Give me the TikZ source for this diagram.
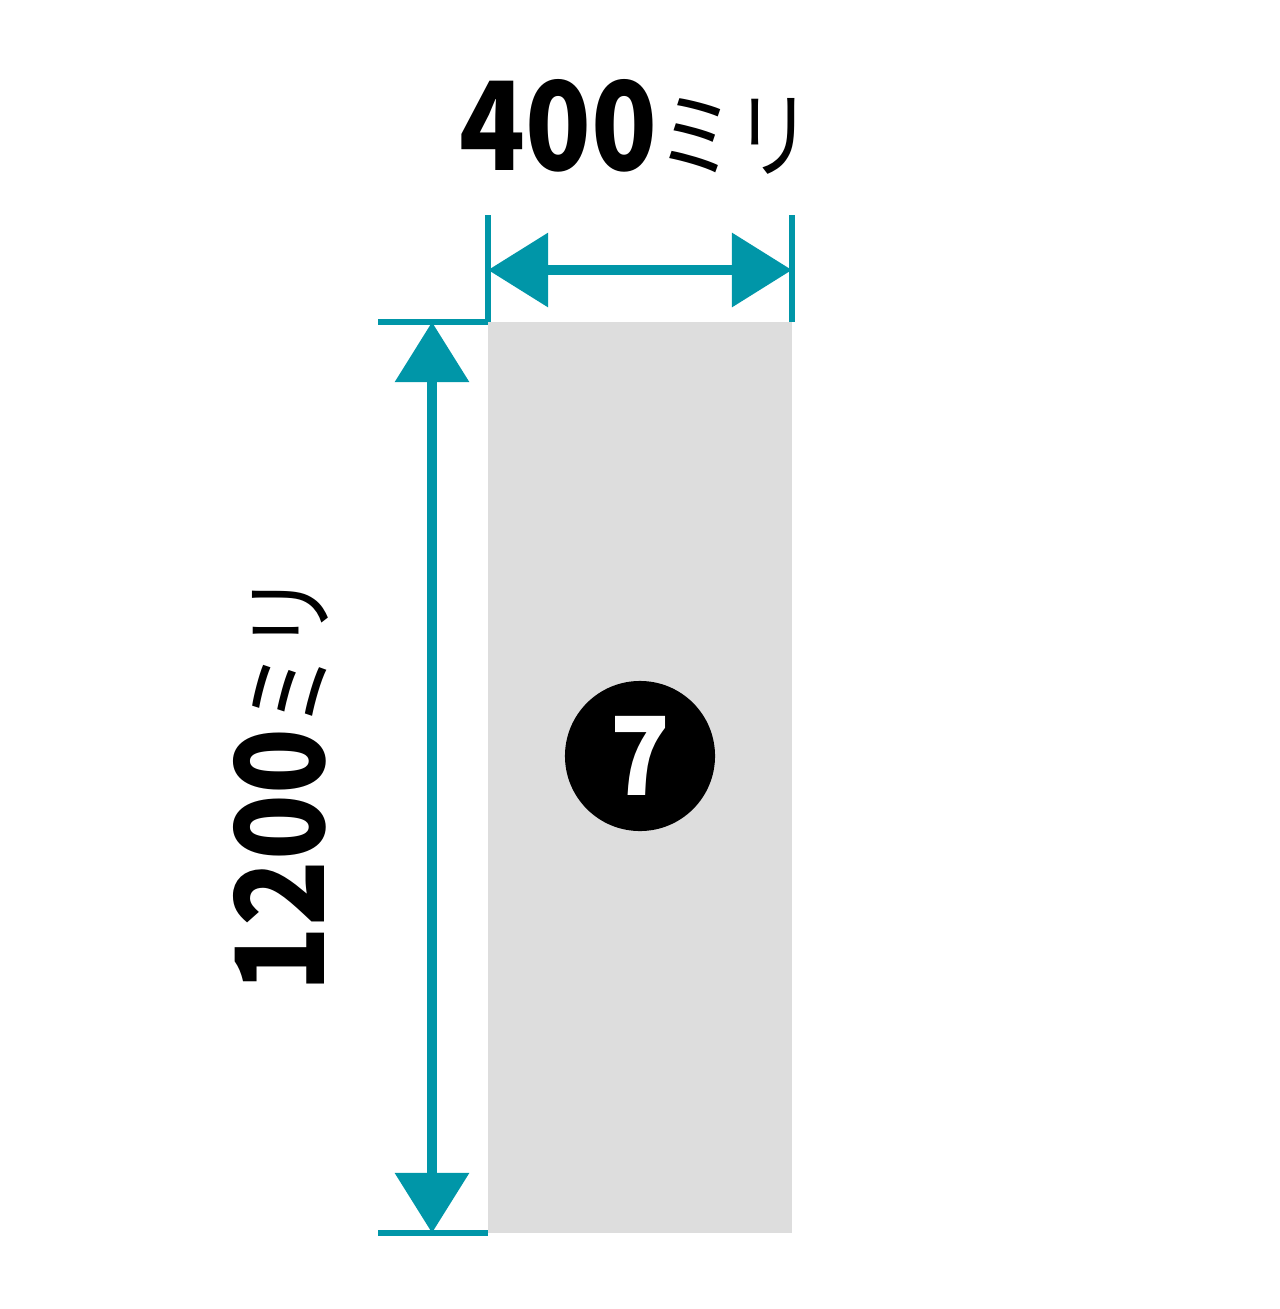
\documentclass[tikz,border=0pt]{standalone}
\usepackage{fontspec}
\newfontfamily\jpfont{Noto Sans CJK JP}
\usepackage{tikz}
\usetikzlibrary{arrows.meta}
\definecolor{dimteal}{RGB}{0,150,168}
\definecolor{panelgray}{RGB}{221,221,221}
\newcommand{\numtext}[1]{{\jpfont\bfseries\fontsize{35}{40}\selectfont\scalebox{0.88}[1]{#1}}}
\newcommand{\katatext}[1]{{\jpfont\fontsize{27}{30}\selectfont\scalebox{0.82}[1]{#1}}}

\begin{document}
\begin{tikzpicture}[x=0.01cm, y=-0.01cm,
  extline/.style={dimteal, line width=1.6pt},
  dimarrow/.style={dimteal, line width=2.8pt, {Triangle[length=0.6cm,width=0.72cm]}-{Triangle[length=0.6cm,width=0.72cm]}},
  dimlabel/.style={inner sep=0pt, anchor=base}]
\useasboundingbox (0,0) rectangle (1280,1309);
% panel
\fill[panelgray] (488,322) rectangle (792,1233);
\coordinate (tl) at (488,322);
\coordinate (tr) at (792,322);
\coordinate (bl) at (488,1233);
% width
\coordinate (wl) at (488,215);
\coordinate (wr) at (792,215);
\coordinate (wa) at (488,270);
\coordinate (wb) at (792,270);
\draw[extline] (wl)--(tl);
\draw[extline] (wr)--(tr);
\draw[dimarrow] (wa)--(wb);
% height
\coordinate (ht) at (378,322);
\coordinate (hb) at (378,1233);
\coordinate (ha) at (432,322);
\coordinate (hz) at (432,1233);
\draw[extline] (ht)--(tl);
\draw[extline] (hb)--(bl);
\draw[dimarrow] (ha)--(hz);
% labels
\node[dimlabel] (wlabel) at (636,170) {\numtext{400}\katatext{ミリ}};
\node[dimlabel, rotate=90] (hlabel) at (324,783) {\numtext{1200}\katatext{ミリ}};
\node[circle, fill=black, minimum size=1.5cm, inner sep=0pt, text=white, font=\jpfont\bfseries\fontsize{31}{34}\selectfont] (num) at (640,756) {\scalebox{0.9}[1]{7}};
\end{tikzpicture}
\end{document}
